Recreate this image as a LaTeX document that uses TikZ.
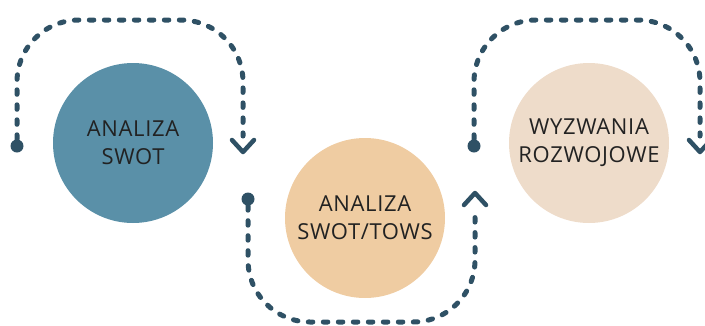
\documentclass[tikz,border=0pt]{standalone}
\usepackage{fontspec}
\setmainfont{Open Sans}[LetterSpace=3]
\definecolor{linec}{HTML}{2F5165}
\definecolor{cA}{HTML}{5A90A8}
\definecolor{cB}{HTML}{EFCCA2}
\definecolor{cC}{HTML}{EEDCCA}
\definecolor{txt}{HTML}{222222}
\begin{document}
\begin{tikzpicture}[x=1pt,y=-1pt,
  bubble/.style={circle,minimum size=160pt,inner sep=0pt,text=txt,align=center,
    font=\fontsize{22}{28}\selectfont},
  dotend/.style={circle,fill=linec,minimum size=13pt,inner sep=0pt},
  dashline/.style={draw=linec,line width=5pt,line cap=round,dash pattern=on 4.5pt off 10.5pt,rounded corners=62pt},
  chev/.style={draw=linec,line width=4.5pt,line cap=round,line join=round}]
\useasboundingbox (0,0) rectangle (705,325);
\node[bubble,fill=cA] (c1) at (133,143) {ANALIZA\\SWOT};
\node[bubble,fill=cB] (c2) at (365,218) {ANALIZA\\SWOT/TOWS};
\node[bubble,fill=cC] (c3) at (589,143) {WYZWANIA\\ROZWOJOWE};
% path 1
\node[dotend] (d1) at (17,146) {};
\coordinate (e1) at (243,152);
\coordinate (t1a) at (17,20);
\coordinate (t1b) at (243,20);
\coordinate (s1) at (243,136);
\draw[dashline] (d1.north) -- (t1a) -- (t1b) -- (s1);
\draw[chev] ([shift={(-11,-12)}]e1) -- (e1) -- ([shift={(11,-12)}]e1);
% path 2
\node[dotend] (d2) at (248,199) {};
\coordinate (e2) at (475,193);
\coordinate (t2a) at (248,322);
\coordinate (t2b) at (475,322);
\coordinate (s2) at (475,209);
\draw[dashline] (d2.south) -- (t2a) -- (t2b) -- (s2);
\draw[chev] ([shift={(-11,12)}]e2) -- (e2) -- ([shift={(11,12)}]e2);
% path 3
\node[dotend] (d3) at (474,146) {};
\coordinate (e3) at (700,152);
\coordinate (t3a) at (474,20);
\coordinate (t3b) at (700,20);
\coordinate (s3) at (700,136);
\draw[dashline] (d3.north) -- (t3a) -- (t3b) -- (s3);
\draw[chev] ([shift={(-11,-12)}]e3) -- (e3) -- ([shift={(11,-12)}]e3);
\end{tikzpicture}
\end{document}
